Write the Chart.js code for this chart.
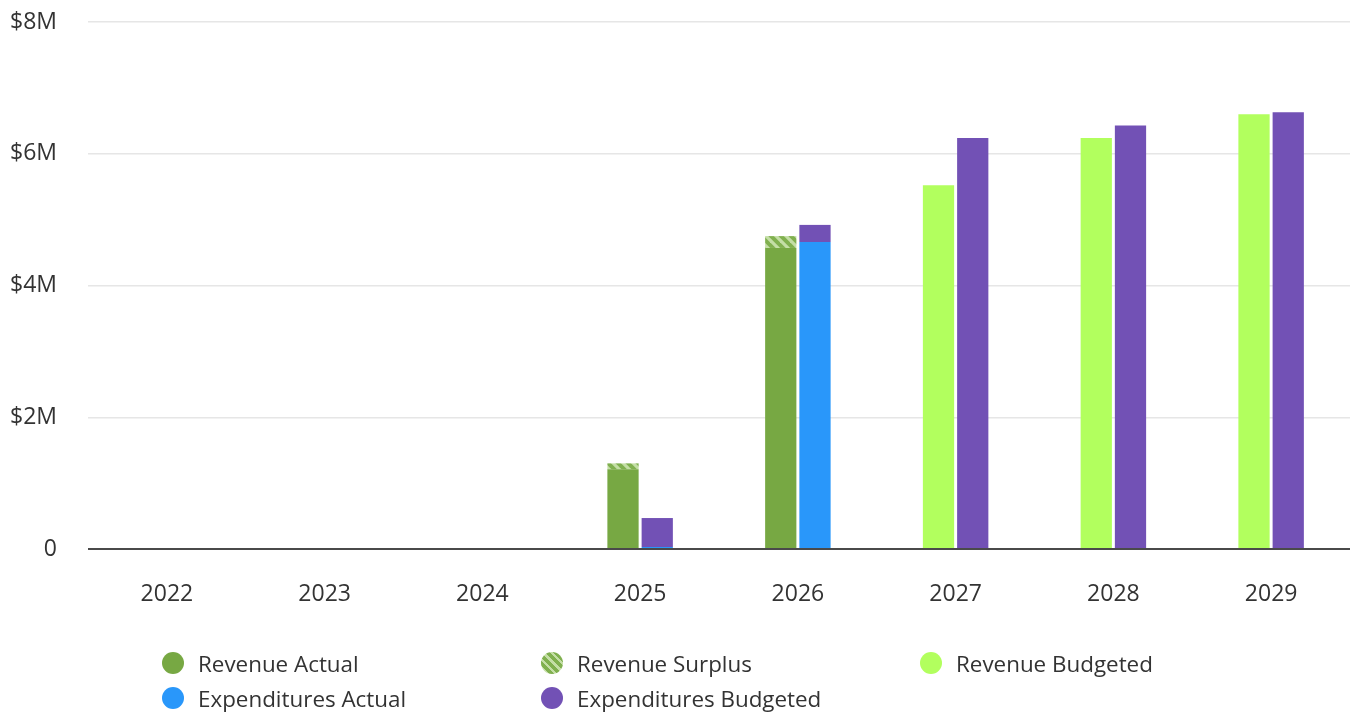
<!DOCTYPE html>
<html>
<head>
<meta charset="utf-8">
<script src="https://cdn.jsdelivr.net/npm/chart.js@4.4.1/dist/chart.umd.min.js"></script>
<style>
  html, body { margin: 0; padding: 0; background: #fff; }
  #wrap { position: relative; width: 1353px; height: 716px; font-family: "Open Sans", sans-serif; }
  #c { position: absolute; left: 0; top: 0; }
  .lg { position: absolute; display: flex; align-items: center; font-size: 22.4px; color: #333; white-space: nowrap; }
  .dot { width: 22px; height: 22px; border-radius: 50%; margin-right: 14px; flex: none; }
</style>
</head>
<body>
<div id="wrap">
  <canvas id="c" width="1353" height="716"></canvas>
  <div id="legend"></div>
</div>
<script>
const categories = ['2022', '2023', '2024', '2025', '2026', '2027', '2028', '2029'];
const revenueActual = [null, null, null, 1210000, 4570000, null, null, null];
const revenueSurplus = [null, null, null, 90000, 180000, null, null, null];
const revenueBudgeted = [null, null, null, null, null, 5520000, 6240000, 6600000];
const expendituresActual = [null, null, null, 30000, 4660000, null, null, null];
const expendituresBudgeted = [null, null, null, 440000, 260000, 6240000, 6430000, 6630000];
const yTicks = [0, 2000000, 4000000, 6000000, 8000000];

const COLORS = {
  revActual: '#77a843',
  revBudget: '#b2ff5e',
  expActual: '#2997fa',
  expBudget: '#7251b5'
};

function makeHatch() {
  const s = 10;
  const c = document.createElement('canvas');
  c.width = s; c.height = s;
  const x = c.getContext('2d');
  x.fillStyle = '#80b04f';
  x.fillRect(0, 0, s, s);
  x.strokeStyle = '#c4dea6';
  x.lineWidth = 3.2;
  for (let k = -1; k <= 1; k++) {
    x.beginPath();
    x.moveTo(k * s - 2, -2);
    x.lineTo(k * s + s + 2, s + 2);
    x.stroke();
  }
  return x.createPattern(c, 'repeat');
}
const ctx = document.getElementById('c').getContext('2d');
const hatch = makeHatch();

const common = { categoryPercentage: 0.434, barPercentage: 0.913, borderWidth: 0 };
const datasets = [
  Object.assign({ label: 'Revenue Actual', data: revenueActual, backgroundColor: COLORS.revActual, stack: 'rev' }, common),
  Object.assign({ label: 'Revenue Surplus', data: revenueSurplus, backgroundColor: hatch, stack: 'rev' }, common),
  Object.assign({ label: 'Revenue Budgeted', data: revenueBudgeted, backgroundColor: COLORS.revBudget, stack: 'rev' }, common),
  Object.assign({ label: 'Expenditures Actual', data: expendituresActual, backgroundColor: COLORS.expActual, stack: 'exp' }, common),
  Object.assign({ label: 'Expenditures Budgeted', data: expendituresBudgeted, backgroundColor: COLORS.expBudget, stack: 'exp' }, common)
];

new Chart(ctx, {
  type: 'bar',
  data: { labels: categories, datasets: datasets },
  options: {
    responsive: false,
    animation: false,
    layout: { padding: { top: 22, right: 3, left: 0, bottom: 0 } },
    plugins: { legend: { display: false }, tooltip: { enabled: false } },
    scales: {
      x: {
        stacked: true,
        grid: { display: false, drawTicks: false },
        border: { display: false },
        ticks: { color: '#333', font: { family: 'Open Sans', size: 23 }, padding: 32 },
        afterFit: (s) => { s.height = 167; }
      },
      y: {
        stacked: true,
        min: 0, max: 8000000,
        afterBuildTicks: (s) => { s.ticks = yTicks.map(v => ({ value: v })); },
        grid: {
          drawTicks: false,
          color: (c) => c.tick && c.tick.value === 0 ? '#4a4a4a' : '#e6e6e6',
          lineWidth: (c) => c.tick && c.tick.value === 0 ? 2 : 1.5
        },
        border: { display: false },
        ticks: {
          color: '#333',
          font: { family: 'Open Sans', size: 23 },
          padding: 31,
          callback: (v) => v === 0 ? '0' : '$' + (v / 1000000) + 'M'
        },
        afterFit: (s) => { s.width = 88; s.paddingTop = 0; s.paddingBottom = 0; }
      }
    }
  }
});

// HTML legend in a 3-column grid
const legendItems = [
  { label: 'Revenue Actual', color: COLORS.revActual, col: 0, row: 0 },
  { label: 'Revenue Surplus', color: null, col: 1, row: 0 },
  { label: 'Revenue Budgeted', color: COLORS.revBudget, col: 2, row: 0 },
  { label: 'Expenditures Actual', color: COLORS.expActual, col: 0, row: 1 },
  { label: 'Expenditures Budgeted', color: COLORS.expBudget, col: 1, row: 1 }
];
const colX = [162, 541, 920];
const rowY = [663, 698];
const lg = document.getElementById('legend');
legendItems.forEach(it => {
  const d = document.createElement('div');
  d.className = 'lg';
  d.style.left = colX[it.col] + 'px';
  d.style.top = (rowY[it.row] - 15) + 'px';
  d.style.height = '30px';
  const dot = document.createElement('span');
  dot.className = 'dot';
  if (it.color) dot.style.background = it.color;
  else dot.style.background = 'repeating-linear-gradient(45deg, #80b04f 0px, #80b04f 3.5px, #c4dea6 3.5px, #c4dea6 6px)';
  const t = document.createElement('span');
  t.textContent = it.label;
  d.appendChild(dot); d.appendChild(t);
  lg.appendChild(d);
});
</script>
</body>
</html>
